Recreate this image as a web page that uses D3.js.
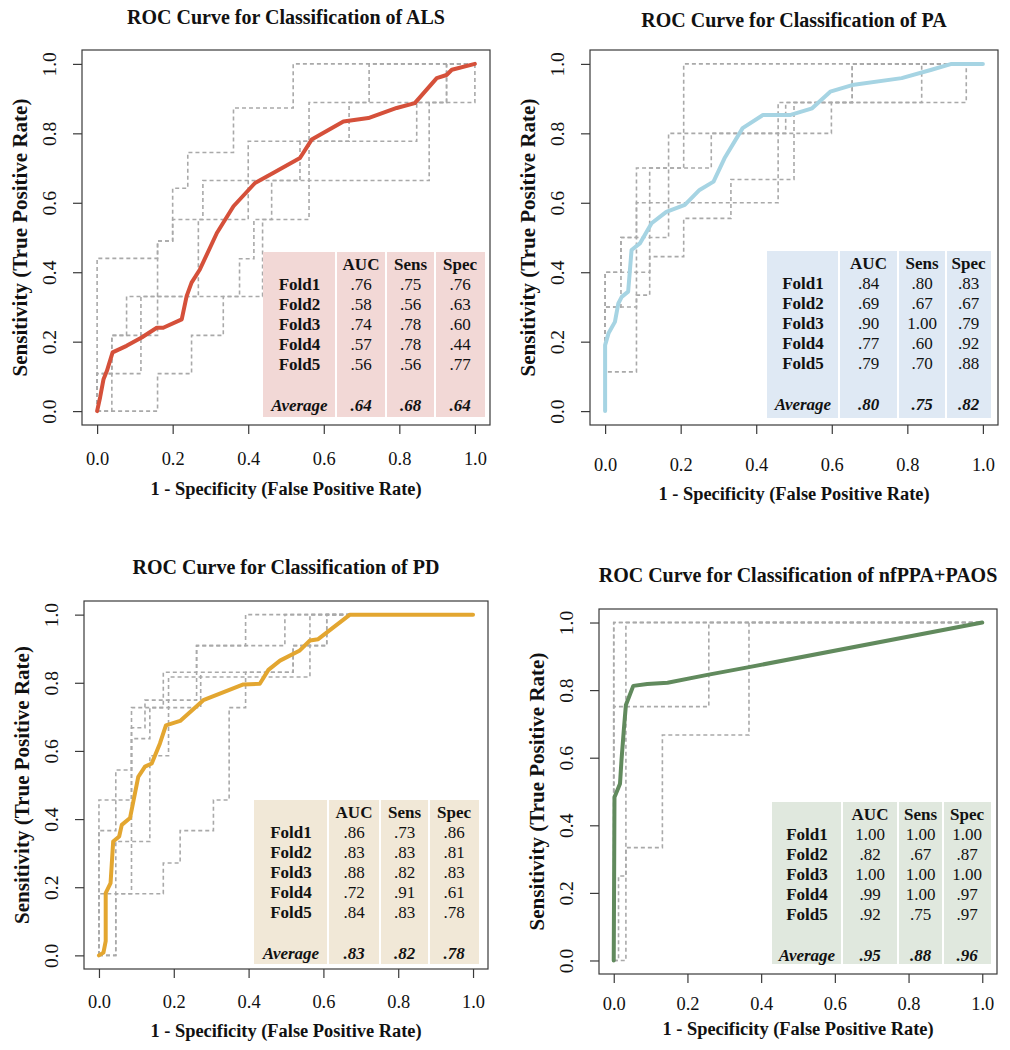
<!DOCTYPE html>
<html><head><meta charset="utf-8">
<script src="https://cdn.jsdelivr.net/npm/d3@7"></script>
<style>
body{margin:0;background:#fff}
svg{display:block}
text{font-family:"Liberation Serif","Times New Roman",serif;fill:#111}
</style>
</head><body>
<svg id="c" width="1010" height="1050"></svg>
<script>
// ---------------- DATA ----------------
const xTicks = [0, 0.2, 0.4, 0.6, 0.8, 1.0];
const yTicks = [0, 0.2, 0.4, 0.6, 0.8, 1.0];
const tableHeaders = ["AUC", "Sens", "Spec"];
const rowLabels = ["Fold1", "Fold2", "Fold3", "Fold4", "Fold5"];
const avgLabel = "Average";

// ALS
const alsMean = [[0,0],[0.008,0.04],[0.017,0.092],[0.026,0.116],[0.041,0.169],[0.078,0.188],[0.118,0.212],[0.158,0.24],[0.175,0.24],[0.224,0.264],[0.237,0.331],[0.25,0.37],[0.272,0.408],[0.317,0.513],[0.361,0.59],[0.418,0.657],[0.466,0.686],[0.537,0.729],[0.568,0.782],[0.652,0.834],[0.718,0.844],[0.793,0.873],[0.841,0.887],[0.899,0.959],[0.925,0.968],[0.939,0.983],[1,1]];
const alsFolds = [
  [[0,0],[0,0.44],[0.16,0.44],[0.16,0.49],[0.2,0.49],[0.2,0.642],[0.24,0.642],[0.24,0.745],[0.361,0.745],[0.361,0.873],[0.519,0.873],[0.519,1],[1,1]],
  [[0,0],[0.16,0],[0.16,0.108],[0.25,0.108],[0.25,0.218],[0.334,0.218],[0.334,0.33],[0.438,0.33],[0.438,0.552],[0.561,0.552],[0.561,0.889],[1,0.889],[1,1]],
  [[0,0],[0,0.108],[0.039,0.108],[0.039,0.218],[0.078,0.218],[0.078,0.33],[0.16,0.33],[0.16,0.49],[0.2,0.49],[0.2,0.552],[0.28,0.552],[0.28,0.664],[0.879,0.664],[0.879,0.889],[0.925,0.889],[0.925,1],[1,1]],
  [[0,0],[0.039,0],[0.039,0.218],[0.116,0.218],[0.116,0.33],[0.268,0.33],[0.268,0.552],[0.4,0.552],[0.4,0.777],[0.667,0.777],[0.667,0.889],[0.72,0.889],[0.72,1],[1,1]],
  [[0,0],[0,0.108],[0.116,0.108],[0.116,0.218],[0.16,0.218],[0.16,0.33],[0.377,0.33],[0.377,0.439],[0.415,0.439],[0.415,0.552],[0.462,0.552],[0.462,0.664],[0.537,0.664],[0.537,0.777],[0.846,0.777],[0.846,0.889],[0.925,0.889],[0.925,1],[1,1]]
];
const alsAUC = [".76", ".58", ".74", ".57", ".56"];
const alsSens = [".75", ".56", ".78", ".78", ".56"];
const alsSpec = [".76", ".63", ".60", ".44", ".77"];
const alsAvg = [".64", ".68", ".64"];

// PA
const paMean = [[0,0],[0,0.19],[0.009,0.224],[0.026,0.257],[0.035,0.31],[0.044,0.329],[0.061,0.344],[0.07,0.464],[0.092,0.483],[0.123,0.541],[0.162,0.574],[0.211,0.594],[0.25,0.637],[0.287,0.661],[0.316,0.728],[0.364,0.815],[0.418,0.853],[0.491,0.853],[0.548,0.872],[0.596,0.92],[0.654,0.939],[0.785,0.959],[0.864,0.983],[0.917,1],[1,1]];
const paFolds = [
  [[0,0],[0,0.30],[0.042,0.30],[0.042,0.50],[0.083,0.50],[0.083,0.70],[0.208,0.70],[0.208,1],[1,1]],
  [[0,0],[0,0.113],[0.083,0.113],[0.083,0.60],[0.458,0.60],[0.458,0.889],[0.956,0.889],[0.956,1],[1,1]],
  [[0,0],[0,0.40],[0.118,0.40],[0.118,0.70],[0.168,0.70],[0.168,0.80],[0.599,0.80],[0.599,0.889],[0.654,0.889],[0.654,1],[1,1]],
  [[0,0],[0,0.30],[0.083,0.30],[0.083,0.334],[0.118,0.334],[0.118,0.445],[0.208,0.445],[0.208,0.555],[0.333,0.555],[0.333,0.667],[0.50,0.667],[0.50,0.889],[0.838,0.889],[0.838,1],[1,1]],
  [[0,0],[0,0.40],[0.042,0.40],[0.042,0.50],[0.168,0.50],[0.168,0.70],[0.281,0.70],[0.281,0.80],[0.478,0.80],[0.478,0.889],[0.654,0.889],[0.654,1],[1,1]]
];
const paAUC = [".84", ".69", ".90", ".77", ".79"];
const paSens = [".80", ".67", "1.00", ".60", ".70"];
const paSpec = [".83", ".67", ".79", ".92", ".88"];
const paAvg = [".80", ".75", ".82"];

// PD
const pdMean = [[0,0],[0.012,0.008],[0.018,0.042],[0.018,0.183],[0.031,0.212],[0.038,0.334],[0.054,0.349],[0.061,0.383],[0.083,0.403],[0.105,0.524],[0.123,0.554],[0.141,0.563],[0.163,0.622],[0.179,0.675],[0.217,0.688],[0.279,0.749],[0.386,0.795],[0.43,0.797],[0.453,0.838],[0.484,0.865],[0.537,0.895],[0.564,0.924],[0.586,0.928],[0.671,1],[1,1]];
const pdFolds = [
  [[0,0],[0,0.456],[0.087,0.456],[0.087,0.727],[0.172,0.727],[0.172,0.831],[0.261,0.831],[0.261,0.909],[0.497,0.909],[0.497,1],[1,1]],
  [[0,0],[0,0.181],[0.172,0.181],[0.172,0.271],[0.217,0.271],[0.217,0.366],[0.306,0.366],[0.306,0.456],[0.348,0.456],[0.348,0.727],[0.392,0.727],[0.392,0.831],[0.519,0.831],[0.519,0.909],[0.609,0.909],[0.609,1],[1,1]],
  [[0,0],[0.045,0],[0.045,0.334],[0.136,0.334],[0.136,0.586],[0.186,0.586],[0.186,0.817],[0.564,0.817],[0.564,1],[1,1]],
  [[0,0],[0,0.366],[0.045,0.366],[0.045,0.544],[0.087,0.544],[0.087,0.636],[0.136,0.636],[0.136,0.727],[0.272,0.727],[0.272,0.831],[0.519,0.831],[0.519,0.909],[0.609,0.909],[0.609,1],[1,1]],
  [[0,0],[0.045,0],[0.045,0.181],[0.087,0.181],[0.087,0.668],[0.123,0.668],[0.123,0.749],[0.261,0.749],[0.261,0.909],[0.392,0.909],[0.392,1],[1,1]]
];
const pdAUC = [".86", ".83", ".88", ".72", ".84"];
const pdSens = [".73", ".83", ".82", ".91", ".83"];
const pdSpec = [".86", ".81", ".83", ".61", ".78"];
const pdAvg = [".83", ".82", ".78"];

// nfPPA+PAOS
const nfMean = [[0,0],[0.001,0.235],[0.002,0.483],[0.017,0.523],[0.021,0.592],[0.028,0.691],[0.033,0.756],[0.053,0.8125],[0.091,0.818],[0.146,0.822],[0.254,0.845],[0.367,0.868],[1,1]];
const nfFolds = [
  [[0,0],[0,1],[1,1]],
  [[0,0],[0.033,0],[0.033,0.334],[0.132,0.334],[0.132,0.667],[0.367,0.667],[0.367,1],[1,1]],
  [[0,0],[0,1],[1,1]],
  [[0,0],[0.013,0],[0.013,0.25],[0.033,0.25],[0.033,1],[1,1]],
  [[0,0],[0,0.751],[0.258,0.751],[0.258,1],[1,1]]
];
const nfAUC = ["1.00", ".82", "1.00", ".99", ".92"];
const nfSens = ["1.00", ".67", "1.00", "1.00", ".75"];
const nfSpec = ["1.00", ".87", "1.00", ".97", ".97"];
const nfAvg = [".95", ".88", ".96"];

// ---------------- LAYOUT / STYLE ----------------
const panels = [
  {title:"ROC Curve for Classification of ALS", mean:alsMean, folds:alsFolds, cols:[alsAUC,alsSens,alsSpec], avg:alsAvg,
   color:"#d5503a", bg:"#f2d8d6", fr:{l:82,r:490,t:50,b:425}, titleY:24, tickY:465, xTitleY:495,
   tab:{l:263, c:[336,386,435], r:485, t:252, b:417}},
  {title:"ROC Curve for Classification of PA", mean:paMean, folds:paFolds, cols:[paAUC,paSens,paSpec], avg:paAvg,
   color:"#a6d4e3", bg:"#dfe9f4", fr:{l:590,r:998,t:50,b:425}, titleY:27, tickY:471, xTitleY:500,
   tab:{l:767, c:[839,898,946], r:991, t:251, b:418}},
  {title:"ROC Curve for Classification of PD", mean:pdMean, folds:pdFolds, cols:[pdAUC,pdSens,pdSpec], avg:pdAvg,
   color:"#e3a630", bg:"#f1e8d7", fr:{l:84,r:488,t:601,b:969}, titleY:574, tickY:1008, xTitleY:1037,
   tab:{l:254, c:[328,380,429], r:479, t:800, b:964}},
  {title:"ROC Curve for Classification of nfPPA+PAOS", mean:nfMean, folds:nfFolds, cols:[nfAUC,nfSens,nfSpec], avg:nfAvg,
   color:"#618a5d", bg:"#e0e8de", fr:{l:599,r:997,t:609,b:974}, titleY:582, tickY:1010, xTitleY:1035,
   tab:{l:772, c:[842,898,943], r:991, t:802, b:964}}
];

const svg = d3.select("#c");
const FS_TICK = 18.4, FS_YTICK = 19.5, FS_TITLE = 20, FS_AX = 18.4, FS_YAX = 21, FS_TAB = 17;

panels.forEach(p => {
  const f = p.fr;
  const x = d3.scaleLinear().domain([-0.04, 1.04]).range([f.l, f.r]);
  const y = d3.scaleLinear().domain([-0.04, 1.04]).range([f.b, f.t]);
  const g = svg.append("g");

  // title
  g.append("text").attr("x", (f.l + f.r) / 2).attr("y", p.titleY)
    .attr("text-anchor", "middle").attr("font-weight", "bold").attr("font-size", FS_TITLE).text(p.title);

  // fold curves
  const line = d3.line().x(d => x(d[0])).y(d => y(d[1]));
  p.folds.forEach(fd => {
    g.append("path").attr("d", line(fd)).attr("fill", "none")
      .attr("stroke", "#a9a9a9").attr("stroke-width", 1.6).attr("stroke-dasharray", "4,3");
  });
  // mean curve
  g.append("path").attr("d", line(p.mean)).attr("fill", "none")
    .attr("stroke", p.color).attr("stroke-width", 4).attr("stroke-linejoin", "round").attr("stroke-linecap", "round");

  // table
  const t = p.tab;
  const edges = [t.l, ...t.c, t.r];
  for (let i = 0; i < 4; i++) {
    g.append("rect").attr("x", edges[i] + (i ? 1 : 0)).attr("y", t.t)
      .attr("width", edges[i + 1] - edges[i] - (i ? 1 : 0) - (i < 3 ? 1 : 0)).attr("height", t.b - t.t)
      .attr("fill", p.bg);
  }
  const cx = i => (edges[i] + edges[i + 1]) / 2;
  tableHeaders.forEach((h, j) => {
    g.append("text").attr("x", cx(j + 1)).attr("y", t.t + 18).attr("text-anchor", "middle")
      .attr("font-weight", "bold").attr("font-size", FS_TAB).text(h);
  });
  rowLabels.forEach((r, i) => {
    const yy = t.t + 38 + i * 20;
    g.append("text").attr("x", cx(0)).attr("y", yy).attr("text-anchor", "middle")
      .attr("font-weight", "bold").attr("font-size", FS_TAB).text(r);
    p.cols.forEach((col, j) => {
      g.append("text").attr("x", cx(j + 1)).attr("y", yy).attr("text-anchor", "middle")
        .attr("font-size", FS_TAB).text(col[i]);
    });
  });
  g.append("text").attr("x", cx(0)).attr("y", t.t + 159).attr("text-anchor", "middle")
    .attr("font-weight", "bold").attr("font-style", "italic").attr("font-size", FS_TAB).text(avgLabel);
  p.avg.forEach((v, j) => {
    g.append("text").attr("x", cx(j + 1)).attr("y", t.t + 159).attr("text-anchor", "middle")
      .attr("font-weight", "bold").attr("font-style", "italic").attr("font-size", FS_TAB).text(v);
  });

  // frame
  g.append("rect").attr("x", f.l).attr("y", f.t).attr("width", f.r - f.l).attr("height", f.b - f.t)
    .attr("fill", "none").attr("stroke", "#3a3a3a").attr("stroke-width", 1.2);

  // x axis
  const xa = g.append("g").attr("transform", `translate(0,${f.b})`)
    .call(d3.axisBottom(x).tickValues(xTicks).tickSize(9).tickFormat(d3.format(".1f")));
  xa.attr("font-family", null);
  xa.select(".domain").remove();
  xa.selectAll("line").attr("stroke", "#3a3a3a").attr("stroke-width", 1.2);
  xa.selectAll("text").attr("font-size", FS_TICK).attr("fill", "#111")
    .attr("y", p.tickY - f.b).attr("dy", null);

  // y axis
  const ya = g.append("g").attr("transform", `translate(${f.l},0)`)
    .call(d3.axisLeft(y).tickValues(yTicks).tickSize(9).tickFormat(d3.format(".1f")));
  ya.attr("font-family", null);
  ya.select(".domain").remove();
  ya.selectAll("line").attr("stroke", "#3a3a3a").attr("stroke-width", 1.2);
  ya.selectAll("text").attr("font-size", FS_YTICK).attr("fill", "#111")
    .attr("x", null).attr("dy", null).attr("text-anchor", "middle")
    .attr("transform", "translate(-26,0) rotate(-90)");

  // axis titles
  g.append("text").attr("x", (f.l + f.r) / 2).attr("y", p.xTitleY).attr("text-anchor", "middle")
    .attr("font-weight", "bold").attr("font-size", FS_AX).text("1 - Specificity (False Positive Rate)");
  g.append("text").attr("transform", `translate(${f.l - 55},${(f.t + f.b) / 2}) rotate(-90)`)
    .attr("text-anchor", "middle").attr("font-weight", "bold").attr("font-size", FS_YAX)
    .text("Sensitivity (True Positive Rate)");
});
</script>
</body></html>
